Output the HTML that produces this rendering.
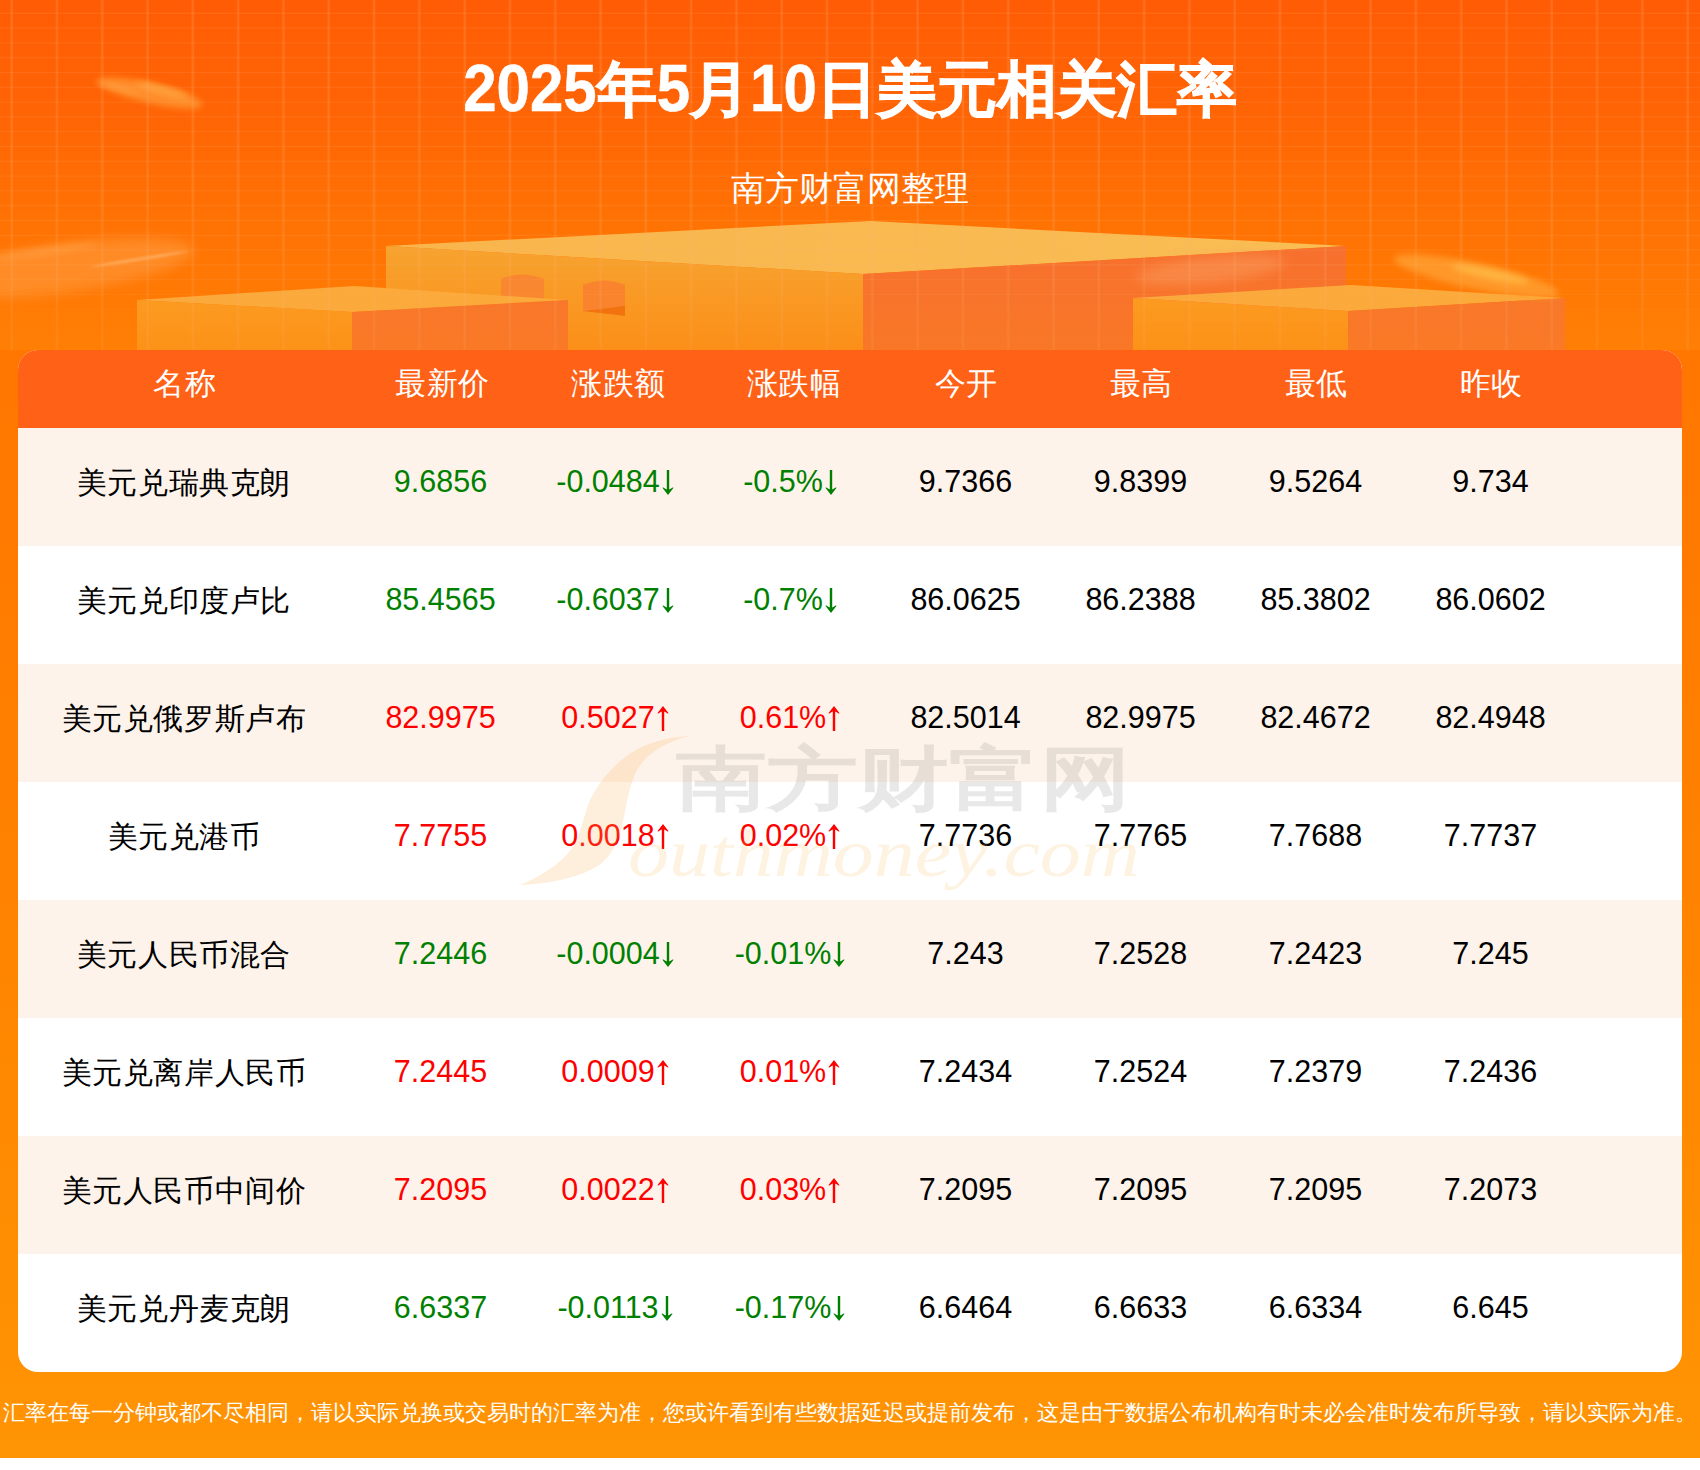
<!DOCTYPE html>
<html><head><meta charset="utf-8">
<style>
*{box-sizing:border-box;margin:0;padding:0}
html,body{width:1700px;height:1470px;overflow:hidden;background:#fff}
body{position:relative;font-family:"Liberation Sans",sans-serif}
#bg{position:absolute;left:0;top:0;width:1700px;height:350px;
 background:linear-gradient(180deg,#ff5c05 0px,#ff6405 110px,#ff7204 220px,#ff7a05 300px,#ff7f05 350px)}
#bg2{position:absolute;left:0;top:350px;width:1700px;height:1108px;
 background:linear-gradient(180deg,#ff7600 0px,#ff8300 550px,#ff9203 1030px,#ff9405 1108px)}
#gridv{position:absolute;left:0;top:0;width:1700px;height:350px;
 background-image:linear-gradient(90deg,transparent 0,rgba(255,180,120,.22) 1px,rgba(255,180,120,.22) 2.4px,transparent 3.4px);
 background-size:45.3px 350px;background-position:10px 0;
 -webkit-mask-image:linear-gradient(180deg,#000 0,#000 60%,rgba(0,0,0,.6) 100%);mask-image:linear-gradient(180deg,#000 0,#000 60%,rgba(0,0,0,.6) 100%)}
#gridh{position:absolute;left:0;top:0;width:1700px;height:330px;
 background-image:linear-gradient(180deg,rgba(255,180,120,.16) 0 1px,transparent 1px);
 background-size:100% 14.8px;background-position:0 12.8px;
 -webkit-mask-image:linear-gradient(180deg,#000 0,#000 80%,transparent 100%);mask-image:linear-gradient(180deg,#000 0,#000 80%,transparent 100%)}
.title{position:absolute;left:0;top:54px;width:1700px;text-align:center;color:#fff;font-weight:bold;font-size:60px;line-height:72px;white-space:nowrap}
.title{-webkit-text-stroke:1.2px #fff}.tn{display:inline-block;transform:translateY(1.5px) scaleY(1.1);transform-origin:50% 56.8px;-webkit-text-stroke:0.5px #fff}
.sub{position:absolute;left:0;top:166px;width:1700px;text-align:center;color:#fff;font-size:34px;line-height:44px;white-space:nowrap}
#card{position:absolute;left:18px;top:350px;width:1664px;height:1022px;border-radius:20px;overflow:hidden;background:#fff}
.row{position:absolute;left:0;width:1664px;height:118px}
.row.o{background:#fef3ea}
.hd{position:absolute;left:0;top:0;width:1664px;height:78px;background:#ff6116}
.c{position:absolute;top:0;text-align:center;white-space:nowrap;font-size:30px;line-height:30px}
.hd .c{color:#fff;top:19px;font-size:31px;letter-spacing:.5px;padding-left:1.5px}
.row .c{top:38px;color:#000}.row .c.n{top:39.5px;letter-spacing:.6px}
.g{color:#008000!important}.r{color:#ff0000!important}
.c.d{font-size:30.5px}
.ar{display:inline-block;vertical-align:-3px;margin-left:1px;fill:currentColor}
.foot{position:absolute;left:0;top:1397px;width:1700px;text-align:center;color:#fff;font-size:22px;line-height:32px;white-space:nowrap}
</style></head><body>
<div id="bg"></div><div id="bg2"></div>
<svg id="deco" width="1700" height="360" viewBox="0 0 1700 360" style="position:absolute;left:0;top:0">
<defs>
 <linearGradient id="bL" x1="0" y1="0" x2="0" y2="1"><stop offset="0" stop-color="#f7a330"/><stop offset="1" stop-color="#fc8d16"/></linearGradient>
 <linearGradient id="bR" x1="0" y1="0" x2="0" y2="1"><stop offset="0" stop-color="#f7702e"/><stop offset="1" stop-color="#f97826"/></linearGradient>
 <linearGradient id="bT" x1="0" y1="0" x2="1" y2="0"><stop offset="0" stop-color="#f9b54c"/><stop offset="1" stop-color="#f9be54"/></linearGradient>
 <linearGradient id="sL" x1="0" y1="0" x2="0" y2="1"><stop offset="0" stop-color="#fc9a20"/><stop offset="1" stop-color="#fd9016"/></linearGradient>
 <linearGradient id="sR" x1="0" y1="0" x2="0" y2="1"><stop offset="0" stop-color="#f8772a"/><stop offset="1" stop-color="#fa7a26"/></linearGradient>
 <linearGradient id="sT" x1="0" y1="0" x2="1" y2="0"><stop offset="0" stop-color="#fba93c"/><stop offset="1" stop-color="#fbaa3a"/></linearGradient>
 <filter id="bl6" x="-50%" y="-50%" width="200%" height="200%"><feGaussianBlur stdDeviation="6"/></filter>
 <filter id="bl1" x="-50%" y="-50%" width="200%" height="200%"><feGaussianBlur stdDeviation="1"/></filter>
 <filter id="bl3" x="-50%" y="-50%" width="200%" height="200%"><feGaussianBlur stdDeviation="3"/></filter>
</defs>
<!-- big block B -->
<polygon points="386,246 871,221 1346,246 863,274" fill="url(#bT)"/>
<polygon points="386,246 863,274 863,360 386,360" fill="url(#bL)"/>
<polygon points="863,274 1346,246 1346,360 863,360" fill="url(#bR)"/>
<!-- windows -->
<path d="M501,299 L501,279 Q522,270 544,279 L544,300 Z" fill="#f98432" opacity=".85"/>
<path d="M583,311 L583,285 Q604,276 625,285 L625,315 Z" fill="#f98230" opacity=".9"/><path d="M583,311 L625,306 L625,316 Z" fill="#ef6e06" opacity=".8"/>
<!-- left block A -->
<polygon points="137,300 354,286 568,300 352,312" fill="url(#sT)"/>
<polygon points="137,300 352,312 352,360 137,360" fill="url(#sL)"/>
<polygon points="352,312 568,300 568,360 352,360" fill="url(#sR)"/>
<!-- right block C -->
<polygon points="1133,298 1351,285 1565,298 1348,311" fill="url(#sT)"/>
<polygon points="1133,298 1348,311 1348,360 1133,360" fill="url(#sL)"/>
<polygon points="1348,311 1565,298 1565,360 1348,360" fill="url(#sR)"/>
<!-- streaks -->
<ellipse cx="150" cy="93" rx="54" ry="10" transform="rotate(13 150 93)" fill="#ff9630" opacity=".85" filter="url(#bl3)"/>
<ellipse cx="163" cy="90" rx="28" ry="3.5" transform="rotate(15 163 90)" fill="#ffae4a" opacity=".7" filter="url(#bl3)"/>
<ellipse cx="118" cy="88" rx="22" ry="2.5" transform="rotate(15 118 88)" fill="#ffa548" opacity=".6" filter="url(#bl3)"/>
<ellipse cx="65" cy="268" rx="130" ry="24" transform="rotate(-8 65 268)" fill="#ff9a3c" opacity=".6" filter="url(#bl6)"/>
<ellipse cx="140" cy="259" rx="50" ry="1.5" transform="rotate(-9 140 259)" fill="#ffc080" opacity=".6" filter="url(#bl1)"/><ellipse cx="40" cy="252" rx="60" ry="4" transform="rotate(-8 40 252)" fill="#ffa850" opacity=".5" filter="url(#bl3)"/>
<ellipse cx="1476" cy="276" rx="84" ry="13" transform="rotate(12 1476 276)" fill="#ffa030" opacity=".8" filter="url(#bl3)"/>
<ellipse cx="1490" cy="274" rx="40" ry="5" transform="rotate(12 1490 274)" fill="#ffc04a" opacity=".75" filter="url(#bl3)"/>
<ellipse cx="1210" cy="270" rx="75" ry="13" transform="rotate(-6 1210 270)" fill="#fb9a5a" opacity=".55" filter="url(#bl6)"/>
</svg>
<div id="gridv"></div><div id="gridh"></div>
<div class="title"><span class="tn">2025</span>年<span class="tn">5</span>月<span class="tn">10</span>日美元相关汇率</div>
<div class="sub">南方财富网整理</div>
<div id="card">
<div class="hd">
 <div class="c" style="left:0;width:332px">名称</div>
 <div class="c" style="left:336px;width:175px">最新价</div>
 <div class="c" style="left:512px;width:175px">涨跌额</div>
 <div class="c" style="left:687.5px;width:175px">涨跌幅</div>
 <div class="c" style="left:860px;width:175px">今开</div>
 <div class="c" style="left:1035px;width:175px">最高</div>
 <div class="c" style="left:1210px;width:175px">最低</div>
 <div class="c" style="left:1385px;width:175px">昨收</div>
</div>
<div class="row o" style="top:78px">
 <div class="c n" style="left:0px;width:332px">美元兑瑞典克朗</div>
 <div class="c d g" style="left:335px;width:175px">9.6856</div>
 <div class="c d g" style="left:510px;width:175px">-0.0484<svg class="ar" width="14" height="25" viewBox="0 0 14 25"><path d="M7,25 L12.6,17.8 L11.6,17.4 Q9.5,19.1 8.2,19.4 L8.2,0 L5.8,0 L5.8,19.4 Q4.5,19.1 2.4,17.4 L1.4,17.8 Z"/></svg></div>
 <div class="c d g" style="left:685px;width:175px">-0.5%<svg class="ar" width="14" height="25" viewBox="0 0 14 25"><path d="M7,25 L12.6,17.8 L11.6,17.4 Q9.5,19.1 8.2,19.4 L8.2,0 L5.8,0 L5.8,19.4 Q4.5,19.1 2.4,17.4 L1.4,17.8 Z"/></svg></div>
 <div class="c d" style="left:860px;width:175px">9.7366</div>
 <div class="c d" style="left:1035px;width:175px">9.8399</div>
 <div class="c d" style="left:1210px;width:175px">9.5264</div>
 <div class="c d" style="left:1385px;width:175px">9.734</div>
</div>
<div class="row" style="top:196px">
 <div class="c n" style="left:0px;width:332px">美元兑印度卢比</div>
 <div class="c d g" style="left:335px;width:175px">85.4565</div>
 <div class="c d g" style="left:510px;width:175px">-0.6037<svg class="ar" width="14" height="25" viewBox="0 0 14 25"><path d="M7,25 L12.6,17.8 L11.6,17.4 Q9.5,19.1 8.2,19.4 L8.2,0 L5.8,0 L5.8,19.4 Q4.5,19.1 2.4,17.4 L1.4,17.8 Z"/></svg></div>
 <div class="c d g" style="left:685px;width:175px">-0.7%<svg class="ar" width="14" height="25" viewBox="0 0 14 25"><path d="M7,25 L12.6,17.8 L11.6,17.4 Q9.5,19.1 8.2,19.4 L8.2,0 L5.8,0 L5.8,19.4 Q4.5,19.1 2.4,17.4 L1.4,17.8 Z"/></svg></div>
 <div class="c d" style="left:860px;width:175px">86.0625</div>
 <div class="c d" style="left:1035px;width:175px">86.2388</div>
 <div class="c d" style="left:1210px;width:175px">85.3802</div>
 <div class="c d" style="left:1385px;width:175px">86.0602</div>
</div>
<div class="row o" style="top:314px">
 <div class="c n" style="left:0px;width:332px">美元兑俄罗斯卢布</div>
 <div class="c d r" style="left:335px;width:175px">82.9975</div>
 <div class="c d r" style="left:510px;width:175px">0.5027<svg class="ar" width="14" height="25" viewBox="0 0 14 25"><path d="M7,0 L12.6,7.2 L11.6,7.6 Q9.5,5.9 8.2,5.6 L8.2,25 L5.8,25 L5.8,5.6 Q4.5,5.9 2.4,7.6 L1.4,7.2 Z"/></svg></div>
 <div class="c d r" style="left:685px;width:175px">0.61%<svg class="ar" width="14" height="25" viewBox="0 0 14 25"><path d="M7,0 L12.6,7.2 L11.6,7.6 Q9.5,5.9 8.2,5.6 L8.2,25 L5.8,25 L5.8,5.6 Q4.5,5.9 2.4,7.6 L1.4,7.2 Z"/></svg></div>
 <div class="c d" style="left:860px;width:175px">82.5014</div>
 <div class="c d" style="left:1035px;width:175px">82.9975</div>
 <div class="c d" style="left:1210px;width:175px">82.4672</div>
 <div class="c d" style="left:1385px;width:175px">82.4948</div>
</div>
<div class="row" style="top:432px">
 <div class="c n" style="left:0px;width:332px">美元兑港币</div>
 <div class="c d r" style="left:335px;width:175px">7.7755</div>
 <div class="c d r" style="left:510px;width:175px">0.0018<svg class="ar" width="14" height="25" viewBox="0 0 14 25"><path d="M7,0 L12.6,7.2 L11.6,7.6 Q9.5,5.9 8.2,5.6 L8.2,25 L5.8,25 L5.8,5.6 Q4.5,5.9 2.4,7.6 L1.4,7.2 Z"/></svg></div>
 <div class="c d r" style="left:685px;width:175px">0.02%<svg class="ar" width="14" height="25" viewBox="0 0 14 25"><path d="M7,0 L12.6,7.2 L11.6,7.6 Q9.5,5.9 8.2,5.6 L8.2,25 L5.8,25 L5.8,5.6 Q4.5,5.9 2.4,7.6 L1.4,7.2 Z"/></svg></div>
 <div class="c d" style="left:860px;width:175px">7.7736</div>
 <div class="c d" style="left:1035px;width:175px">7.7765</div>
 <div class="c d" style="left:1210px;width:175px">7.7688</div>
 <div class="c d" style="left:1385px;width:175px">7.7737</div>
</div>
<div class="row o" style="top:550px">
 <div class="c n" style="left:0px;width:332px">美元人民币混合</div>
 <div class="c d g" style="left:335px;width:175px">7.2446</div>
 <div class="c d g" style="left:510px;width:175px">-0.0004<svg class="ar" width="14" height="25" viewBox="0 0 14 25"><path d="M7,25 L12.6,17.8 L11.6,17.4 Q9.5,19.1 8.2,19.4 L8.2,0 L5.8,0 L5.8,19.4 Q4.5,19.1 2.4,17.4 L1.4,17.8 Z"/></svg></div>
 <div class="c d g" style="left:685px;width:175px">-0.01%<svg class="ar" width="14" height="25" viewBox="0 0 14 25"><path d="M7,25 L12.6,17.8 L11.6,17.4 Q9.5,19.1 8.2,19.4 L8.2,0 L5.8,0 L5.8,19.4 Q4.5,19.1 2.4,17.4 L1.4,17.8 Z"/></svg></div>
 <div class="c d" style="left:860px;width:175px">7.243</div>
 <div class="c d" style="left:1035px;width:175px">7.2528</div>
 <div class="c d" style="left:1210px;width:175px">7.2423</div>
 <div class="c d" style="left:1385px;width:175px">7.245</div>
</div>
<div class="row" style="top:668px">
 <div class="c n" style="left:0px;width:332px">美元兑离岸人民币</div>
 <div class="c d r" style="left:335px;width:175px">7.2445</div>
 <div class="c d r" style="left:510px;width:175px">0.0009<svg class="ar" width="14" height="25" viewBox="0 0 14 25"><path d="M7,0 L12.6,7.2 L11.6,7.6 Q9.5,5.9 8.2,5.6 L8.2,25 L5.8,25 L5.8,5.6 Q4.5,5.9 2.4,7.6 L1.4,7.2 Z"/></svg></div>
 <div class="c d r" style="left:685px;width:175px">0.01%<svg class="ar" width="14" height="25" viewBox="0 0 14 25"><path d="M7,0 L12.6,7.2 L11.6,7.6 Q9.5,5.9 8.2,5.6 L8.2,25 L5.8,25 L5.8,5.6 Q4.5,5.9 2.4,7.6 L1.4,7.2 Z"/></svg></div>
 <div class="c d" style="left:860px;width:175px">7.2434</div>
 <div class="c d" style="left:1035px;width:175px">7.2524</div>
 <div class="c d" style="left:1210px;width:175px">7.2379</div>
 <div class="c d" style="left:1385px;width:175px">7.2436</div>
</div>
<div class="row o" style="top:786px">
 <div class="c n" style="left:0px;width:332px">美元人民币中间价</div>
 <div class="c d r" style="left:335px;width:175px">7.2095</div>
 <div class="c d r" style="left:510px;width:175px">0.0022<svg class="ar" width="14" height="25" viewBox="0 0 14 25"><path d="M7,0 L12.6,7.2 L11.6,7.6 Q9.5,5.9 8.2,5.6 L8.2,25 L5.8,25 L5.8,5.6 Q4.5,5.9 2.4,7.6 L1.4,7.2 Z"/></svg></div>
 <div class="c d r" style="left:685px;width:175px">0.03%<svg class="ar" width="14" height="25" viewBox="0 0 14 25"><path d="M7,0 L12.6,7.2 L11.6,7.6 Q9.5,5.9 8.2,5.6 L8.2,25 L5.8,25 L5.8,5.6 Q4.5,5.9 2.4,7.6 L1.4,7.2 Z"/></svg></div>
 <div class="c d" style="left:860px;width:175px">7.2095</div>
 <div class="c d" style="left:1035px;width:175px">7.2095</div>
 <div class="c d" style="left:1210px;width:175px">7.2095</div>
 <div class="c d" style="left:1385px;width:175px">7.2073</div>
</div>
<div class="row" style="top:904px">
 <div class="c n" style="left:0px;width:332px">美元兑丹麦克朗</div>
 <div class="c d g" style="left:335px;width:175px">6.6337</div>
 <div class="c d g" style="left:510px;width:175px">-0.0113<svg class="ar" width="14" height="25" viewBox="0 0 14 25"><path d="M7,25 L12.6,17.8 L11.6,17.4 Q9.5,19.1 8.2,19.4 L8.2,0 L5.8,0 L5.8,19.4 Q4.5,19.1 2.4,17.4 L1.4,17.8 Z"/></svg></div>
 <div class="c d g" style="left:685px;width:175px">-0.17%<svg class="ar" width="14" height="25" viewBox="0 0 14 25"><path d="M7,25 L12.6,17.8 L11.6,17.4 Q9.5,19.1 8.2,19.4 L8.2,0 L5.8,0 L5.8,19.4 Q4.5,19.1 2.4,17.4 L1.4,17.8 Z"/></svg></div>
 <div class="c d" style="left:860px;width:175px">6.6464</div>
 <div class="c d" style="left:1035px;width:175px">6.6633</div>
 <div class="c d" style="left:1210px;width:175px">6.6334</div>
 <div class="c d" style="left:1385px;width:175px">6.645</div>
</div>
</div>
<svg id="wm" width="1700" height="1470" viewBox="0 0 1700 1470" style="position:absolute;left:0;top:0;pointer-events:none">
<path d="M690,736 C664,737 640,745 624,758 C606,772 596,788 590,800 C584,814 583,826 576,842 C566,860 546,874 520,885 C548,884 578,878 598,866 C612,856 618,842 622,826 C626,808 628,790 636,772 C646,754 664,742 690,736 Z" fill="rgb(250,175,80)" fill-opacity=".2"/>
<text x="628" y="876" font-family="Liberation Serif, serif" font-style="italic" font-size="68" textLength="512" lengthAdjust="spacingAndGlyphs" fill="rgb(250,175,80)" fill-opacity=".17">outhmoney.com</text>
<text x="676" y="803" font-family="Liberation Sans, sans-serif" font-weight="bold" font-size="70" textLength="455" lengthAdjust="spacingAndGlyphs" fill="rgb(110,110,110)" fill-opacity=".16">南方财富网</text>
</svg>
<div class="foot">汇率在每一分钟或都不尽相同，请以实际兑换或交易时的汇率为准，您或许看到有些数据延迟或提前发布，这是由于数据公布机构有时未必会准时发布所导致，请以实际为准。</div>
</body></html>
